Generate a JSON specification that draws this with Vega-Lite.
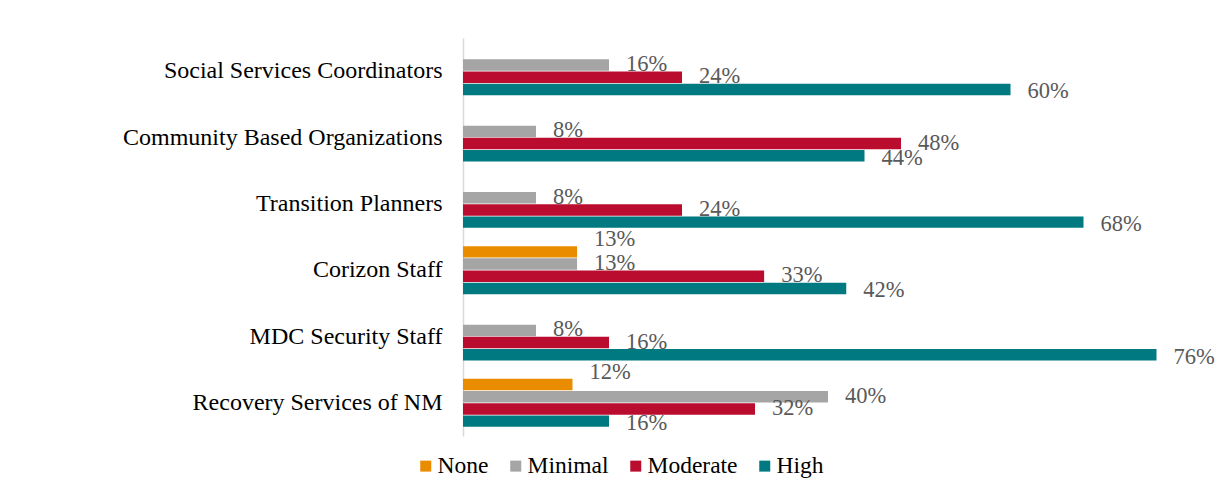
{
  "$schema": "https://vega.github.io/schema/vega-lite/v6.json",
  "width": 730,
  "height": 398,
  "autosize": {"type": "none"},
  "padding": {"left": 463, "top": 38, "right": 30, "bottom": 61},
  "background": "white",
  "config": {
    "view": {"stroke": null},
    "font": "Liberation Serif",
    "text": {"font": "Liberation Serif"},
    "axis": {"labelFont": "Liberation Serif"},
    "legend": {"labelFont": "Liberation Serif"}
  },
  "data": {
    "values": [
      {"category": "Social Services Coordinators", "level": "Minimal", "value": 0.16},
      {"category": "Social Services Coordinators", "level": "Moderate", "value": 0.24},
      {"category": "Social Services Coordinators", "level": "High", "value": 0.60},
      {"category": "Community Based Organizations", "level": "Minimal", "value": 0.08},
      {"category": "Community Based Organizations", "level": "Moderate", "value": 0.48},
      {"category": "Community Based Organizations", "level": "High", "value": 0.44},
      {"category": "Transition Planners", "level": "Minimal", "value": 0.08},
      {"category": "Transition Planners", "level": "Moderate", "value": 0.24},
      {"category": "Transition Planners", "level": "High", "value": 0.68},
      {"category": "Corizon Staff", "level": "None", "value": 0.125},
      {"category": "Corizon Staff", "level": "Minimal", "value": 0.125},
      {"category": "Corizon Staff", "level": "Moderate", "value": 0.33},
      {"category": "Corizon Staff", "level": "High", "value": 0.42},
      {"category": "MDC Security Staff", "level": "Minimal", "value": 0.08},
      {"category": "MDC Security Staff", "level": "Moderate", "value": 0.16},
      {"category": "MDC Security Staff", "level": "High", "value": 0.76},
      {"category": "Recovery Services of NM", "level": "None", "value": 0.12},
      {"category": "Recovery Services of NM", "level": "Minimal", "value": 0.40},
      {"category": "Recovery Services of NM", "level": "Moderate", "value": 0.32},
      {"category": "Recovery Services of NM", "level": "High", "value": 0.16}
    ]
  },
  "encoding": {
    "y": {
      "field": "category",
      "type": "nominal",
      "sort": ["Social Services Coordinators", "Community Based Organizations", "Transition Planners", "Corizon Staff", "MDC Security Staff", "Recovery Services of NM"],
      "scale": {"paddingInner": 0.276, "paddingOuter": 0.138},
      "axis": {
        "title": null,
        "labelFontSize": 24,
        "labelFont": "Liberation Serif",
        "labelColor": "#000000",
        "labelPadding": 21,
        "ticks": false,
        "domainColor": "#D9D9D9",
        "domainWidth": 1.5,
        "labelLimit": 500
      }
    },
    "yOffset": {
      "field": "level",
      "type": "nominal",
      "scale": {"domain": ["None", "Minimal", "Moderate", "High"], "paddingInner": 0.06, "paddingOuter": 0}
    },
    "x": {
      "field": "value",
      "type": "quantitative",
      "scale": {"domain": [0, 0.8]},
      "axis": null
    }
  },
  "layer": [
    {
      "mark": {"type": "bar"},
      "encoding": {
        "color": {
          "field": "level",
          "type": "nominal",
          "scale": {"domain": ["None", "Minimal", "Moderate", "High"], "range": ["#EA8C00", "#A5A5A5", "#BA0C2F", "#007A80"]},
          "legend": {
            "orient": "none",
            "legendX": -49,
            "legendY": 416,
            "direction": "horizontal",
            "title": null,
            "symbolType": "square",
            "symbolSize": 121,
            "symbolStrokeWidth": 0,
            "labelFontSize": 23.5,
            "labelFont": "Liberation Serif",
            "labelColor": "#000000",
            "labelOffset": 0,
            "columnPadding": 15
          }
        }
      }
    },
    {
      "transform": [{"filter": "datum.level === 'None'"}],
      "mark": {"type": "text", "align": "left", "baseline": "middle", "dx": 17, "dy": -13, "fontSize": 22.5, "font": "Liberation Serif", "color": "#595959"},
      "encoding": {
        "text": {"field": "value", "type": "quantitative", "format": ".0%"}
      }
    },
    {
      "transform": [{"filter": "datum.level === 'Minimal' || datum.level === 'Moderate'"}],
      "mark": {"type": "text", "align": "left", "baseline": "middle", "dx": 17, "dy": -1, "fontSize": 22.5, "font": "Liberation Serif", "color": "#595959"},
      "encoding": {
        "text": {"field": "value", "type": "quantitative", "format": ".0%"}
      }
    },
    {
      "transform": [{"filter": "datum.level === 'High'"}],
      "mark": {"type": "text", "align": "left", "baseline": "middle", "dx": 17, "dy": 2, "fontSize": 22.5, "font": "Liberation Serif", "color": "#595959"},
      "encoding": {
        "text": {"field": "value", "type": "quantitative", "format": ".0%"}
      }
    }
  ]
}
